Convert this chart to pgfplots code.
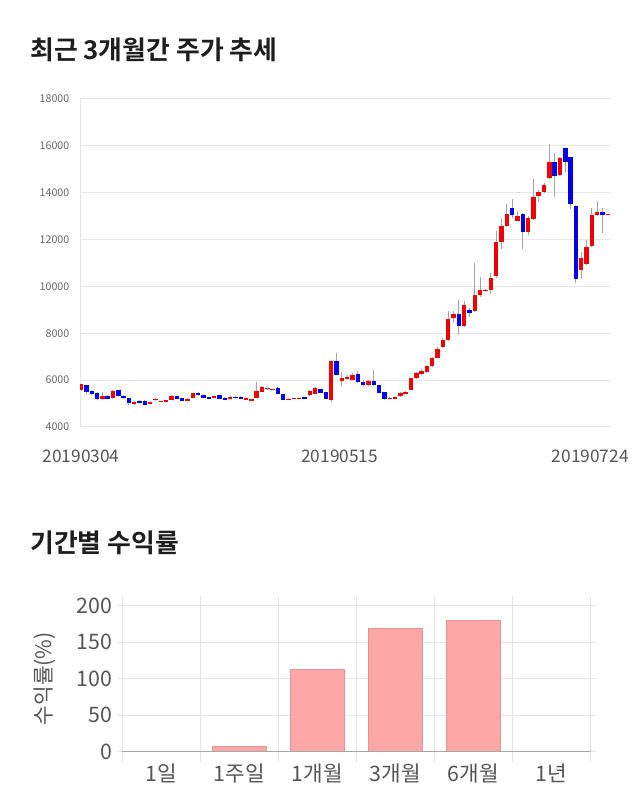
\documentclass[border=0pt]{standalone}
\usepackage{fontspec}
\setmainfont{Noto Sans CJK KR}[BoldFont={Noto Sans CJK KR Bold}]
\usepackage{pgfplots}
\pgfplotsset{compat=1.18}
\usepackage{pgfplotstable}

\definecolor{candred}{RGB}{240,0,0}
\definecolor{candblue}{RGB}{0,0,235}
\definecolor{wick}{RGB}{165,165,165}
\definecolor{gridc}{RGB}{230,230,230}
\definecolor{txtA}{RGB}{102,102,102}
\definecolor{txtB}{RGB}{85,85,85}
\definecolor{barfill}{RGB}{255,166,166}
\definecolor{bardraw}{RGB}{225,150,150}
\definecolor{titlec}{RGB}{30,30,30}

% rising candles: index open high low close
\pgfplotstableread{
i o h l c
0 5571 5850 5530 5814
4 5186 5500 5170 5330
6 5230 5580 5210 5557
10 4970 5100 4950 5086
13 5030 5070 5020 5060
14 5143 5230 5130 5214
15 5090 5110 5080 5110
16 5120 5140 5110 5140
17 5171 5360 5160 5343
20 5100 5230 5090 5214
21 5257 5460 5240 5443
25 5230 5330 5220 5314
28 5186 5320 5170 5300
31 5200 5270 5170 5225
32 5160 5190 5150 5180
33 5257 5930 5240 5557
34 5500 5730 5480 5714
35 5630 5680 5600 5660
36 5600 5640 5590 5625
39 5190 5220 5180 5210
40 5220 5250 5210 5240
41 5215 5245 5200 5240
43 5357 5580 5340 5557
44 5429 5690 5410 5671
47 5157 6810 5070 6800
49 5957 6357 5757 6100
50 6100 6200 6050 6125
51 6014 6300 6000 6229
54 5786 6000 5770 5971
58 5220 5260 5200 5240
59 5245 5300 5230 5270
60 5314 5480 5300 5457
61 5450 5520 5440 5485
62 5586 6090 5570 6071
63 6086 6350 6070 6286
64 6243 6460 6200 6400
65 6343 6660 6300 6600
66 6600 6970 6580 6943
67 6957 7400 6930 7343
68 7400 7800 7380 7720
69 7710 8963 7690 8600
70 8634 8960 8460 8806
72 8292 9390 8270 9191
74 8948 10988 8900 9633
75 9633 10400 9550 9847
76 9830 9870 9800 9860
77 9830 10560 9660 10370
78 10427 12385 10350 11916
79 11888 12900 11600 12597
80 12597 13500 12520 13093
82 12810 13200 12780 12994
84 12313 13000 12200 12909
85 12880 14580 12850 13802
86 13845 14100 13600 14015
87 14015 14420 13990 14341
88 14610 16070 14580 15291
90 14766 15540 14700 15490
94 10683 11450 10320 11207
95 10966 12000 10900 11675
96 11718 13330 11700 13051
97 13051 13660 13000 13164
99 13070 13110 13050 13090
}\redtab

% falling candles: index open high low close
\pgfplotstableread{
i o h l c
1 5786 5800 5400 5500
2 5530 5560 5370 5400
3 5470 5490 5170 5186
5 5340 5360 5190 5214
7 5586 5600 5300 5314
8 5343 5360 5210 5230
9 5230 5250 4957 5030
11 5130 5140 5030 5043
12 5130 5140 4940 4957
18 5314 5330 5190 5200
19 5230 5240 5110 5130
22 5470 5480 5340 5357
23 5370 5380 5240 5257
24 5286 5300 5190 5200
26 5357 5370 5190 5200
27 5243 5260 5140 5157
29 5300 5310 5230 5243
30 5300 5310 5200 5214
37 5671 5690 5410 5429
38 5400 5410 5140 5157
42 5286 5300 5220 5230
45 5629 5640 5460 5471
46 5500 5510 5180 5200
48 6829 7157 6200 6214
52 6257 6370 5890 5900
53 5900 6000 5770 5786
55 5943 6443 5770 5786
56 5786 5800 5450 5471
57 5500 5510 5170 5186
71 8834 9419 7922 8292
73 9006 9060 8700 8849
81 13348 13730 12900 13065
83 13093 13150 11576 12313
89 15291 15700 13802 14695
91 15887 15900 14870 15291
92 15504 15540 13300 13504
93 13447 13470 10158 10328
98 13164 13330 12300 13051
}\bluetab

\pgfplotsset{
  wickplot/.style={draw=none, forget plot, error bars/.cd, y dir=both, y explicit,
    error mark=none, error bar style={draw=wick, line width=0.75pt}},
  bodyplot/.style={draw=none, forget plot, error bars/.cd, y dir=both, y explicit,
    error mark=none, error bar style={draw=#1, line width=3.3pt}},
}

\begin{document}
\begin{tikzpicture}
\useasboundingbox (0,0) rectangle (480pt,607.5pt);

\node[anchor=west, inner sep=0, text=titlec, font=\fontsize{19.4}{21}\selectfont\bfseries] at (22.5pt,570pt) {최근 3개월간 주가 추세};
\node[anchor=west, inner sep=0, text=titlec, font=\fontsize{19.4}{21}\selectfont\bfseries] at (22.5pt,200.25pt) {기간별 수익률};

\begin{axis}[
  at={(60pt,287.25pt)}, anchor=south west, scale only axis,
  width=397.5pt, height=246pt,
  xmin=-0.2, xmax=99.4, ymin=4000, ymax=18000,
  ytick={4000,6000,...,18000},
  scaled y ticks=false,
  xtick={0,48.6,95.7}, xticklabels={20190304,20190515,20190724},
  ymajorgrids, grid style={draw=gridc, line width=0.75pt},
  axis line style={draw=none},
  major tick length=0pt,
  /pgf/number format/1000 sep={},
  /pgf/number format/assume math mode=true,
  yticklabel style={font=\fontsize{8}{9}\selectfont, text=txtA, xshift=-4.5pt},
  xticklabel style={font=\fontsize{13}{15}\selectfont, text=txtB, yshift=-14pt},
]
\draw[gridc, line width=0.75pt] (rel axis cs:0,0) -- (rel axis cs:0,1);
\addplot[wickplot] table[x=i, y expr={(\thisrow{h}+\thisrow{l})/2}, y error expr={(\thisrow{h}-\thisrow{l})/2}] {\redtab};
\addplot[wickplot] table[x=i, y expr={(\thisrow{h}+\thisrow{l})/2}, y error expr={(\thisrow{h}-\thisrow{l})/2}] {\bluetab};
\addplot[bodyplot=candred] table[x=i, y expr={(\thisrow{o}+\thisrow{c})/2}, y error expr={abs(\thisrow{c}-\thisrow{o})/2}] {\redtab};
\addplot[bodyplot=candblue] table[x=i, y expr={(\thisrow{o}+\thisrow{c})/2}, y error expr={abs(\thisrow{c}-\thisrow{o})/2}] {\bluetab};
\end{axis}

\begin{axis}[
  at={(91.5pt,43.7pt)}, anchor=south west, scale only axis,
  width=351.5pt, height=109.5pt,
  xmin=-0.5, xmax=5.5, ymin=0, ymax=200,
  ytick={0,50,...,200},
  xtick={0,...,5}, xticklabels={1일,1주일,1개월,3개월,6개월,1년},
  minor xtick={-0.5,0.5,...,5.5},
  ymajorgrids, xminorgrids,
  grid style={draw=gridc, line width=0.75pt},
  minor grid style={draw=gridc, line width=0.75pt},
  axis line style={draw=none},
  tick align=outside,
  major x tick style={draw=none},
  minor x tick style={draw=gridc, line width=0.75pt},
  major y tick style={draw=gridc, line width=0.75pt},
  major tick length=3.75pt, minor tick length=7.5pt,
  /pgf/number format/assume math mode=true,
  ticklabel style={font=\fontsize{16}{18}\selectfont, text=txtB},
  xticklabel style={yshift=-2pt},
  ylabel={수익률(\%)},
  ylabel style={at={(axis description cs:-0.164,0.5)}, anchor=center, rotate=0, font=\fontsize{16}{18}\selectfont, text=txtB},
  ybar, bar width=40.5pt,
]
\addplot[fill=barfill, draw=bardraw, line width=0.6pt] coordinates {(1,7) (2,113) (3,169) (4,179.5)};
\draw[draw=gray!70, line width=0.75pt] (axis cs:-0.5,0) -- (axis cs:5.5,0);
\end{axis}
\end{tikzpicture}
\end{document}
